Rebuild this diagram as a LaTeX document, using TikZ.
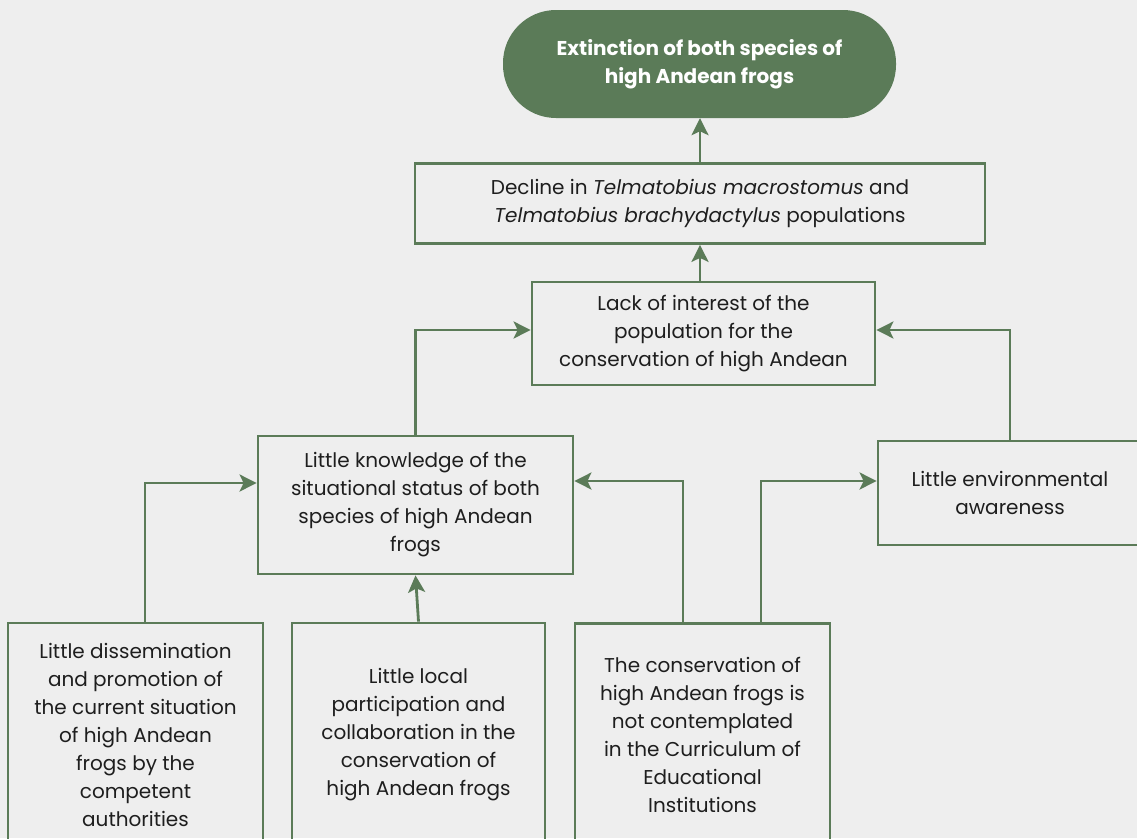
\documentclass[tikz,border=0pt]{standalone}
\usepackage{fontspec}
\setmainfont{Poppins}
\usetikzlibrary{arrows.meta}
\definecolor{frog}{HTML}{5B7B58}
\definecolor{paper}{HTML}{EEEEEE}
\definecolor{ink}{HTML}{1E1E1E}
\begin{document}
\begin{tikzpicture}[x=1pt,y=-1pt,
  box/.style={draw=frog, line width=2.8pt, align=center, inner sep=0pt, text=ink,
    font=\fontsize{20}{28}\selectfont},
  topbox/.style={fill=frog, rounded corners=53pt, align=center, inner sep=0pt, text=white,
    font=\fontsize{20}{28}\selectfont\bfseries},
  arr/.style={draw=frog, line width=2.8pt, -{Stealth[length=17pt,width=17pt,inset=4pt]}},
]
\fill[paper] (0,0) rectangle (1137,838);
\useasboundingbox (0,0) rectangle (1137,838);
\begin{scope}
\clip (0,0) rectangle (1137,838);
\node[topbox, minimum width=393pt, minimum height=108pt] (ext) at (699.5,64)
  {Extinction of both species of\\high Andean frogs};
\node[box, minimum width=570pt, minimum height=80pt] (decl) at (700,203.5)
  {Decline in \textit{Telmatobius macrostomus} and\\\textit{Telmatobius brachydactylus} populations};
\node[box, minimum width=343pt, minimum height=103pt] (lack) at (703.5,333.5)
  {Lack of interest of the\\population for the\\conservation of high Andean};
\node[box, minimum width=315pt, minimum height=138pt] (know) at (415.5,505)
  {Little knowledge of the\\situational status of both\\species of high Andean\\frogs};
\node[box, minimum width=264pt, minimum height=104pt] (env) at (1010,493)
  {Little environmental\\awareness};
\node[box, minimum width=255pt, minimum height=223pt] (b1) at (135.5,734.5)
  {Little dissemination\\and promotion of\\the current situation\\of high Andean\\frogs by the\\competent\\authorities};
\node[box, minimum width=253pt, minimum height=223pt] (b2) at (418.5,734.5)
  {Little local\\participation and\\collaboration in the\\conservation of\\high Andean frogs};
\node[box, minimum width=255pt, minimum height=223pt] (b3) at (702.5,735)
  {The conservation of\\high Andean frogs is\\not contemplated\\in the Curriculum of\\Educational\\Institutions};
\end{scope}
\draw[arr] ([xshift=-3.5pt]lack.north) -- ([xshift=-3.5pt]lack.north |- decl.south);
\draw[arr] (decl.north) -- (decl.north |- ext.south);
\draw[arr] (know.north) |- ([yshift=3.5pt]lack.west);
\draw[arr] (env.north) |- ([yshift=3.5pt]lack.east);
\draw[arr] ([xshift=9.5pt]b1.north) |- ([yshift=22pt]know.west);
\draw[arr] (b2.north) -- (know.south);
\draw[arr] ([xshift=-19.5pt]b3.north) |- ([yshift=24pt]know.east);
\draw[arr] ([xshift=58.5pt]b3.north) |- ([yshift=12pt]env.west);
\end{tikzpicture}
\end{document}
